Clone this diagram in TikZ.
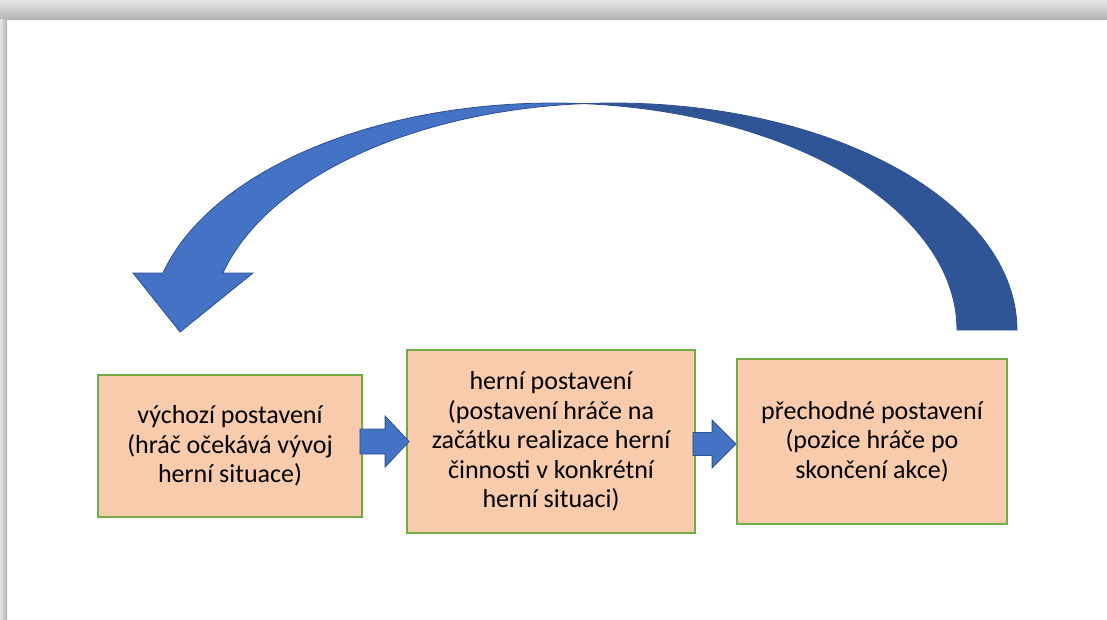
\documentclass[tikz,border=0pt]{standalone}
\usepackage{fontspec}
\setmainfont{Carlito}
\usetikzlibrary{calc}
\definecolor{boxfill}{HTML}{F8CBAD}
\definecolor{boxline}{HTML}{70AD47}
\definecolor{arrowblue}{HTML}{4472C4}
\definecolor{arrowdark}{HTML}{2F5597}
\definecolor{arrowedge}{HTML}{2F528F}

\begin{document}
\begin{tikzpicture}[x=1pt,y=-1pt,
  stage/.style={draw=boxline, fill=boxfill, line width=1.8pt, align=center,
    font=\fontsize{26}{29.5}\selectfont, inner sep=0pt},
  blk/.style={fill=arrowblue, draw=arrowedge, line width=0.8pt, line join=miter},
]
\useasboundingbox (0,0) rectangle (1107,619);
% page with its shadowed top and left edges
\fill[white] (0,0) rectangle (1107,619);
\shade[top color=gray!20, bottom color=gray!60] (0,0) rectangle (1107,19);
\shade[left color=gray!20, right color=gray!60] (0,19) rectangle (7,619);

% the three stages
\node[stage, minimum width=264pt, minimum height=142pt] (b1) at (230,446)
  {výchozí postavení\\(hráč očekává vývoj\\herní situace)};
\node[stage, minimum width=288pt, minimum height=183pt] (b2) at (551,441.5)
  {herní postavení\\(postavení hráče na\\začátku realizace herní\\činnosti v konkrétní\\herní situaci)};
\node[stage, minimum width=270pt, minimum height=165pt] (b3) at (872,441.5)
  {přechodné postavení\\(pozice hráče po\\skončení akce)};

% block arrows between the stages
\coordinate (a1s) at ($(b1.east |- b2.west)+(-3,0)$);
\coordinate (a1t) at ($(b2.west)+(3,0)$);
\draw[blk] ($(a1s)+(0,-12.5)$) -- ($(a1t)+(-24,-12.5)$) -- ($(a1t)+(-24,-25.5)$)
  -- (a1t) -- ($(a1t)+(-24,25.5)$) -- ($(a1t)+(-24,12.5)$) -- ($(a1s)+(0,12.5)$) -- cycle;

\coordinate (a2s) at ($(b2.east |- b3.west)+(-3,2.5)$);
\coordinate (a2t) at ($(b3.west)+(0,2.5)$);
\draw[blk] ($(a2s)+(0,-11.5)$) -- ($(a2t)+(-24,-11.5)$) -- ($(a2t)+(-24,-24)$)
  -- (a2t) -- ($(a2t)+(-24,24)$) -- ($(a2t)+(-24,11.5)$) -- ($(a2s)+(0,11.5)$) -- cycle;

% curved return arrow: back part (tail, darker)
\filldraw[fill=arrowdark, draw=arrowedge, line width=0.8pt]
  plot[domain=0:94.26, samples=60] ({613.5+403.5*cos(\x)}, {330-227*sin(\x)})
  -- plot[domain=85.74:0, samples=60] ({553.5+403.5*cos(\x)}, {330-227*sin(\x)})
  -- cycle;
% front part with the head
\filldraw[fill=arrowblue, draw=arrowedge, line width=0.8pt, line join=miter]
  plot[domain=85.74:165.46, samples=60] ({553.5+403.5*cos(\x)}, {330-227*sin(\x)})
  -- (133,273) -- (180,332) -- (253,273)
  -- plot[domain=165.46:94.26, samples=60] ({613.5+403.5*cos(\x)}, {330-227*sin(\x)})
  -- cycle;
\end{tikzpicture}
\end{document}
